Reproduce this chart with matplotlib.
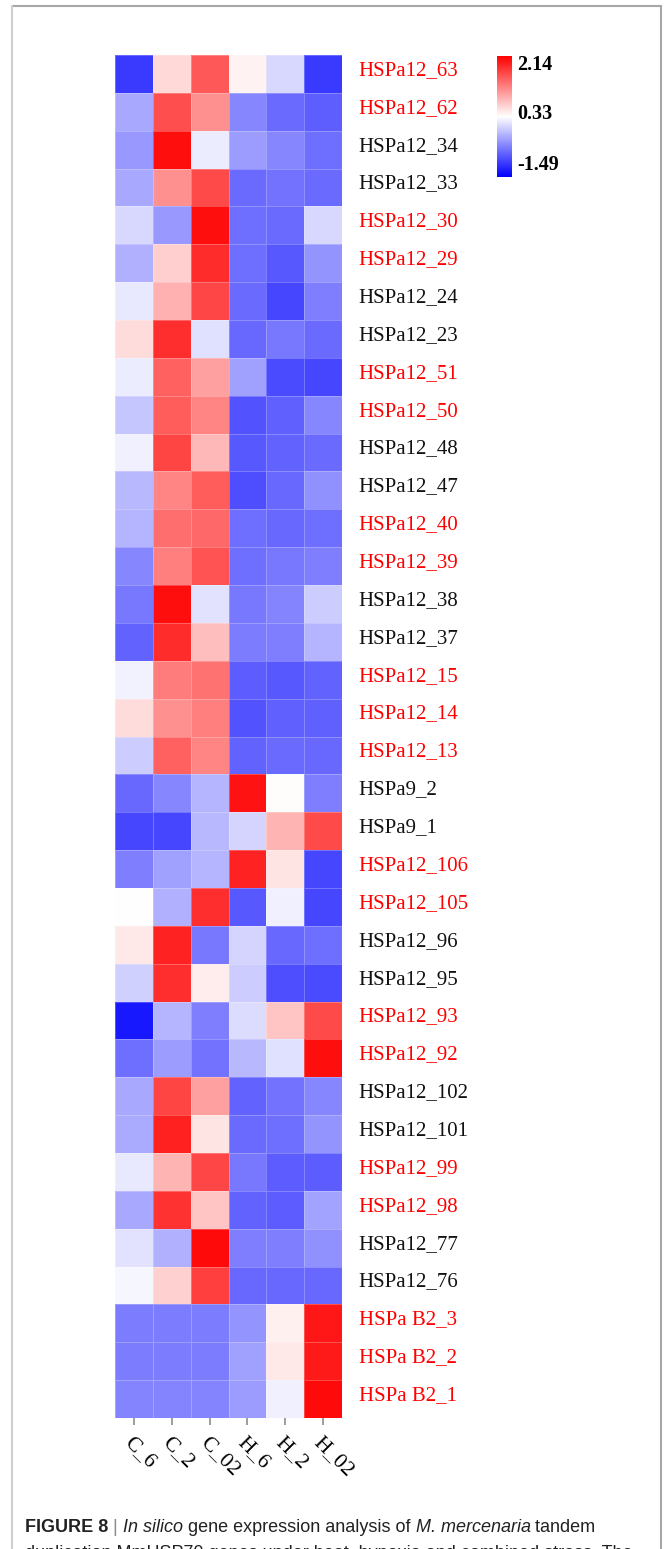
import numpy as np
import matplotlib
matplotlib.use('Agg')
import matplotlib.pyplot as plt
from matplotlib.colors import LinearSegmentedColormap, Normalize
from matplotlib.cm import ScalarMappable
from matplotlib.lines import Line2D
from matplotlib.transforms import ScaledTranslation

# expression matrix (scaled), one list per sample, rows top -> bottom
genes = ['HSPa12_63', 'HSPa12_62', 'HSPa12_34', 'HSPa12_33', 'HSPa12_30', 'HSPa12_29',
         'HSPa12_24', 'HSPa12_23', 'HSPa12_51', 'HSPa12_50', 'HSPa12_48', 'HSPa12_47',
         'HSPa12_40', 'HSPa12_39', 'HSPa12_38', 'HSPa12_37', 'HSPa12_15', 'HSPa12_14',
         'HSPa12_13', 'HSPa9_2', 'HSPa9_1', 'HSPa12_106', 'HSPa12_105', 'HSPa12_96',
         'HSPa12_95', 'HSPa12_93', 'HSPa12_92', 'HSPa12_102', 'HSPa12_101', 'HSPa12_99',
         'HSPa12_98', 'HSPa12_77', 'HSPa12_76', 'HSPa B2_3', 'HSPa B2_2', 'HSPa B2_1']
tandem = {'HSPa12_63', 'HSPa12_62', 'HSPa12_30', 'HSPa12_29', 'HSPa12_51', 'HSPa12_50',
          'HSPa12_40', 'HSPa12_39', 'HSPa12_15', 'HSPa12_14', 'HSPa12_13', 'HSPa12_106',
          'HSPa12_105', 'HSPa12_93', 'HSPa12_92', 'HSPa12_99', 'HSPa12_98',
          'HSPa B2_3', 'HSPa B2_2', 'HSPa B2_1'}
samples = ['C_6', 'C_2', 'C_02', 'H_6', 'H_2', 'H_02']

c_6 = [-1.53, -0.58, -0.72, -0.58, -0.17, -0.52, -0.03, 0.47, 0.01, -0.32, 0.03, -0.45,
       -0.47, -0.87, -1.00, -1.18, 0.06, 0.47, -0.28, -1.13, -1.42, -0.94, 0.17, 0.36,
       -0.23, -1.82, -1.07, -0.58, -0.56, -0.03, -0.58, -0.08, 0.08, -0.96, -0.96, -0.89]
c_2 = [0.50, 1.68, 2.23, 1.11, -0.72, 0.58, 0.85, 1.95, 1.53, 1.57, 1.77, 1.22,
       1.40, 1.27, 2.23, 1.97, 1.29, 1.11, 1.53, -0.87, -1.42, -0.65, -0.52, 2.06,
       1.95, -0.47, -0.69, 1.77, 2.08, 0.80, 1.93, -0.52, 0.56, -0.96, -0.96, -0.89]
c_02 = [1.60, 1.11, 0.01, 1.71, 2.23, 1.97, 1.75, -0.10, 0.98, 1.22, 0.78, 1.57,
        1.46, 1.64, -0.08, 0.72, 1.38, 1.27, 1.22, -0.47, -0.45, -0.47, 1.95, -1.00,
        0.32, -0.94, -1.05, 0.98, 0.39, 1.75, 0.67, 2.26, 1.82, -0.96, -0.96, -0.89]
h_6 = [0.28, -0.87, -0.69, -1.11, -1.07, -1.07, -1.11, -1.13, -0.65, -1.31, -1.27, -1.35,
       -1.07, -1.07, -1.00, -0.96, -1.24, -1.31, -1.18, 2.19, -0.21, 2.06, -1.27, -0.21,
       -0.28, -0.14, -0.45, -1.18, -1.11, -1.00, -1.18, -0.94, -1.13, -0.76, -0.65, -0.69]
h_2 = [-0.17, -1.11, -0.87, -1.05, -1.11, -1.27, -1.42, -1.00, -1.38, -1.20, -1.18, -1.13,
       -1.13, -1.00, -0.89, -0.94, -1.27, -1.20, -1.11, 0.19, 0.80, 0.39, 0.03, -1.13,
       -1.35, 0.67, -0.10, -1.05, -1.07, -1.24, -1.24, -0.94, -1.13, 0.30, 0.36, 0.03]
h_02 = [-1.53, -1.22, -1.07, -1.11, -0.17, -0.76, -0.94, -1.11, -1.42, -0.87, -1.11, -0.78,
        -1.07, -0.94, -0.28, -0.47, -1.18, -1.20, -1.13, -0.94, 1.71, -1.42, -1.42, -1.07,
        -1.38, 1.71, 2.23, -0.87, -0.76, -1.24, -0.63, -0.78, -1.13, 2.17, 2.12, 2.26]

legend_ticks = [-1.49, 0.33, 2.14]
vmin, vmax = -2.03, 2.36

data = np.column_stack([c_6, c_2, c_02, h_6, h_2, h_02])
cmap = LinearSegmentedColormap.from_list('bwr3', ['#0000ff', '#ffffff', '#ff0000'], N=256)
norm = Normalize(vmin=vmin, vmax=vmax)

W, H = 667, 1549
fig = plt.figure(figsize=(W / 100, H / 100), dpi=100)
fig.patch.set_facecolor('white')


def box(x0, y0, x1, y1):
    # pixel box (top-left origin) -> figure fraction rect
    return [x0 / W, 1 - y1 / H, (x1 - x0) / W, (y1 - y0) / H]


ax = fig.add_axes(box(115, 55, 342, 1418))
ax.pcolormesh(data, cmap=cmap, norm=norm, edgecolors=(1, 1, 1, 0.25), linewidth=0.4)
ax.set_xlim(0, data.shape[1])
ax.set_ylim(data.shape[0], 0)
for s in ax.spines.values():
    s.set_visible(False)

serif = ['Liberation Serif', 'DejaVu Serif']
ax.set_xticks(np.arange(len(samples)) + 0.5)
ax.set_xticklabels(samples, rotation=-45, ha='left', va='top', rotation_mode='anchor',
                   family=serif, fontsize=15.5)
ax.tick_params(axis='x', length=5, width=1.2, color='#8c8c8c', pad=6)

ax.yaxis.tick_right()
ax.set_yticks(np.arange(len(genes)) + 0.5)
ax.set_yticklabels(genes, family=serif, fontsize=15)
ax.tick_params(axis='y', length=0, pad=12)
lift = ScaledTranslation(0, 6 / 100, fig.dpi_scale_trans)
for lbl, g in zip(ax.get_yticklabels(), genes):
    lbl.set_color('#ff0000' if g in tandem else '#111111')
    lbl.set_transform(lbl.get_transform() + lift)

# colour key
cax = fig.add_axes(box(497, 56, 512, 177))
cb = fig.colorbar(ScalarMappable(norm=norm, cmap=cmap), cax=cax, ticks=legend_ticks)
cb.outline.set_visible(False)
cb.ax.tick_params(length=0, pad=4)
cb.ax.set_yticklabels([f'{t:.2f}' for t in legend_ticks], family=serif,
                      fontweight='bold', fontsize=14.5)

# panel frame
frame = dict(color='#a6a6a6', lw=1.5, transform=fig.transFigure)
fig.add_artist(Line2D([12 / W, 661 / W], [1 - 6 / H, 1 - 6 / H], **frame))
fig.add_artist(Line2D([12 / W, 12 / W], [1 - 6 / H, 0], color='#cfcfcf', lw=1.5,
                      transform=fig.transFigure))
fig.add_artist(Line2D([661 / W, 661 / W], [1 - 6 / H, 0], **frame))

# caption
sans = ['Liberation Sans', 'DejaVu Sans']
renderer = fig.canvas.get_renderer()


def caption_line(parts, x_px, y_px, size=13.0):
    x = x_px / W
    for txt, kw in parts:
        t = fig.text(x, 1 - y_px / H, txt, family=sans, fontsize=size, va='baseline',
                     color=kw.pop('color', '#222222'), **kw)
        x += t.get_window_extent(renderer).width / W


caption_line([('FIGURE 8', dict(fontweight='bold')),
              (' | ', dict(color='#8a8a8a')),
              ('In silico', dict(style='italic')),
              (' gene expression analysis of ', {}),
              ('M. mercenaria', dict(style='italic')),
              (' tandem', {})], 25, 1532)
caption_line([('duplication MmHSP70 genes under heat, hypoxia and combined stress. The', {})],
             25, 1558)

fig.savefig('out.png', dpi=100)
